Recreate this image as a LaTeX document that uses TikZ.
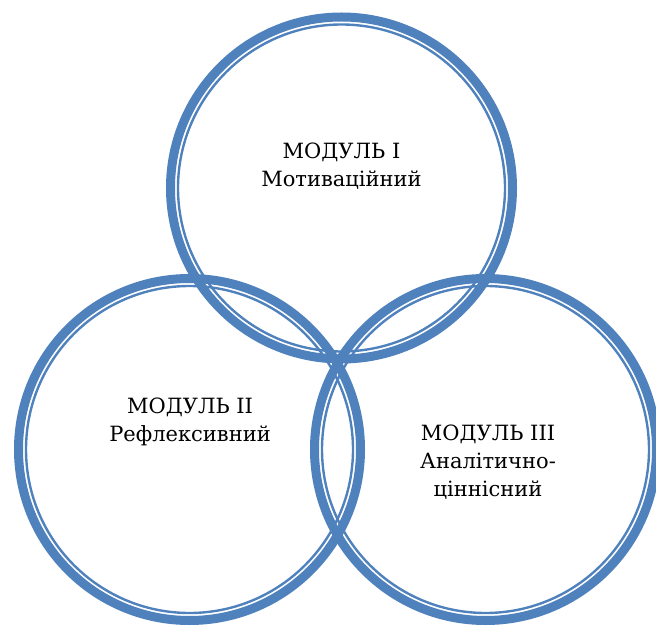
\documentclass[tikz,border=0pt]{standalone}
\usepackage{fontspec}
\setmainfont{DejaVu Serif}
\usetikzlibrary{positioning}
\definecolor{ringblue}{RGB}{79,129,189}

\begin{document}
\begin{tikzpicture}[x=1pt, y=-1pt,
    outerring/.style={draw=ringblue, line width=9pt},
    innerring/.style={draw=ringblue, line width=2.4pt},
    modlabel/.style={align=center, font=\fontsize{21}{28}\selectfont}]
  \useasboundingbox (0,0) rectangle (656,628);
  \coordinate (ctop) at (341.5,188);
  \coordinate (cleft) at (189.5,449.5);
  \coordinate (cright) at (485.5,449.5);
  % rings: thick outside, thin inside
  \foreach \c in {ctop,cleft,cright}{
    \draw[outerring] (\c) circle (171pt);
    \draw[innerring] (\c) circle (163.5pt);
  }
  \node[modlabel] (motiv) at (341.5,166) {МОДУЛЬ I\\Мотиваційний};
  \node[modlabel] (reflex) at (190,422) {МОДУЛЬ II\\Рефлексивний};
  \node[modlabel] (analit) at (488,462) {МОДУЛЬ III\\Аналітично-\\ціннісний};
\end{tikzpicture}
\end{document}
